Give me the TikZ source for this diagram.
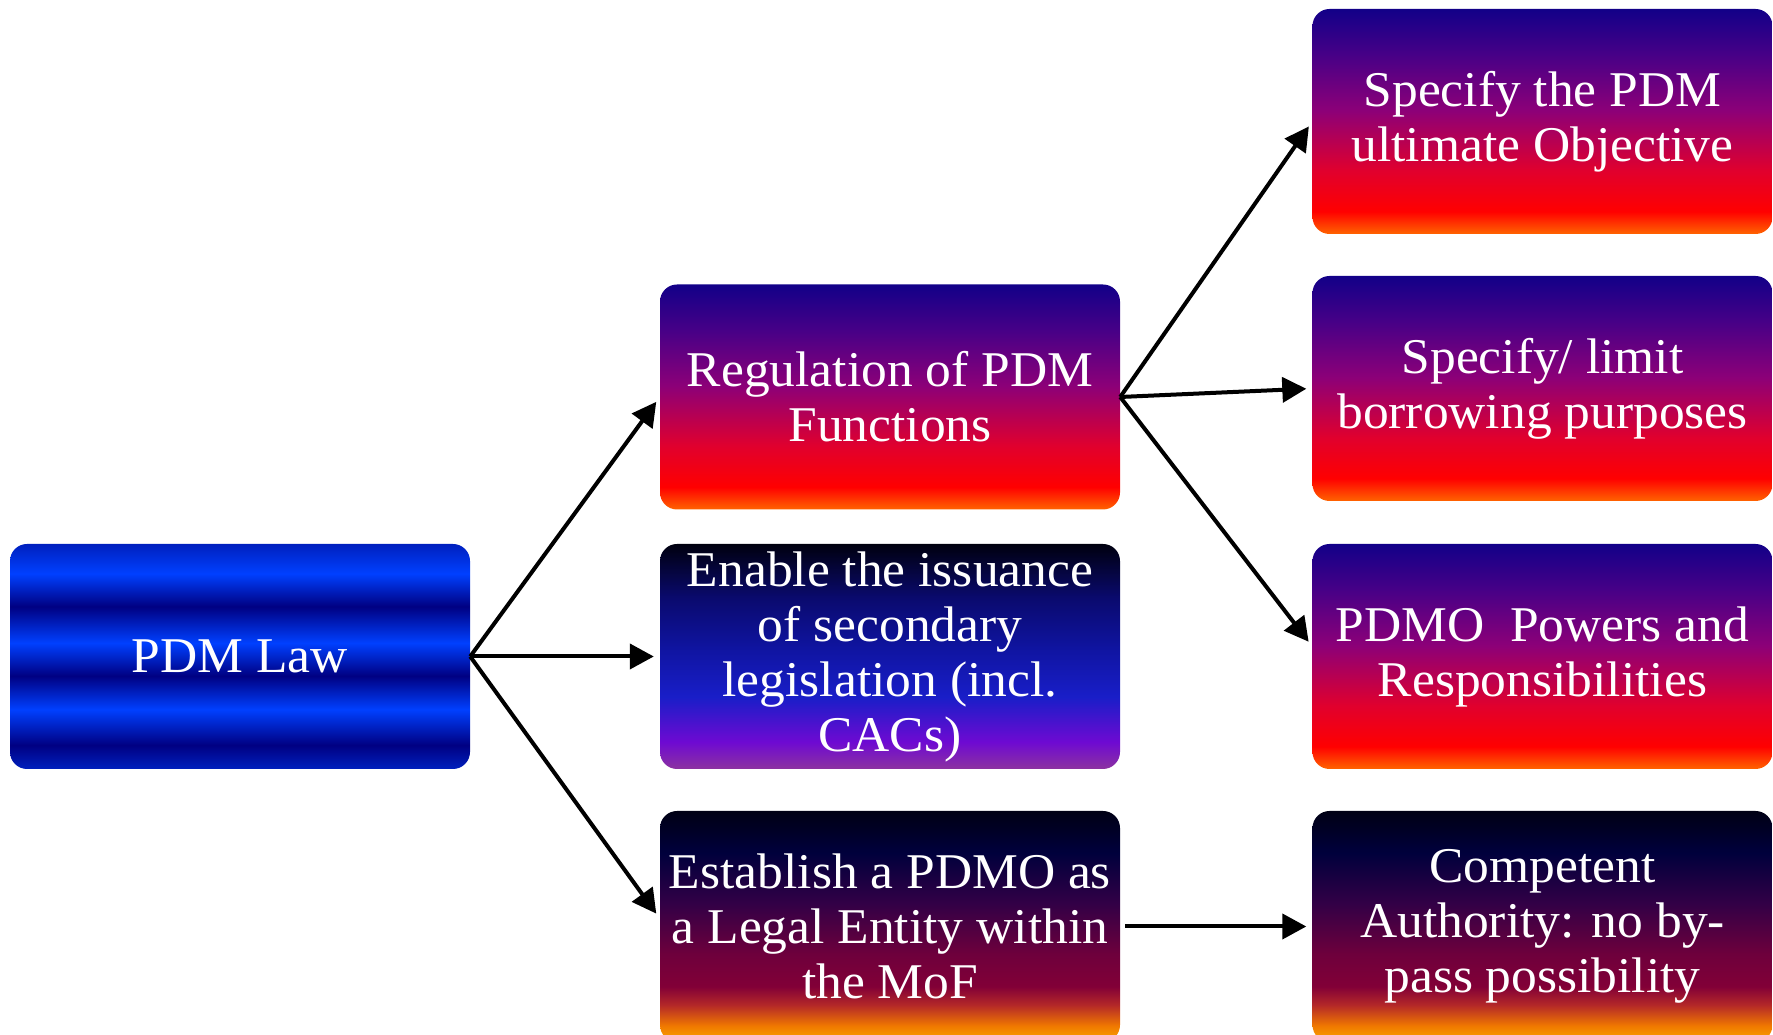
\documentclass[tikz,border=0pt]{standalone}
\usepackage{fontspec}
\setmainfont{Liberation Serif}[FakeStretch=1.03]
\usetikzlibrary{arrows.meta}

% Colours of the shadings
\definecolor{bandmid}{RGB}{0,32,190}
\definecolor{banddark}{RGB}{0,0,130}
\definecolor{bandbright}{RGB}{0,64,255}
\definecolor{fadeorange}{RGB}{255,100,0}
\definecolor{fadered}{RGB}{255,0,0}
\definecolor{fadecrimson}{RGB}{225,0,45}
\definecolor{fadeplum}{RGB}{140,0,120}
\definecolor{fadepurple}{RGB}{70,0,135}
\definecolor{fadenavy}{RGB}{18,0,136}
\definecolor{bluemauve}{RGB}{140,50,160}
\definecolor{blueviolet}{RGB}{110,10,210}
\definecolor{bluemid}{RGB}{25,30,200}
\definecolor{bluedeep}{RGB}{15,20,160}
\definecolor{bluedark}{RGB}{10,10,110}
\definecolor{blueblack}{RGB}{0,0,15}
\definecolor{amberyellow}{RGB}{250,170,0}
\definecolor{amberorange}{RGB}{240,120,0}
\definecolor{amberrust}{RGB}{180,40,40}
\definecolor{ambermaroon}{RGB}{130,0,55}
\definecolor{amberwine}{RGB}{110,0,60}
\definecolor{amberplum}{RGB}{50,0,70}
\definecolor{ambernavy}{RGB}{0,0,60}
\definecolor{amberblack}{RGB}{0,0,20}

% Shadings (25bp = bottom of box, 75bp = top of box)
\pgfdeclareverticalshading{lawbands}{100bp}{color(0bp)=(bandmid); color(25bp)=(bandmid);
  color(30.3bp)=(banddark); color(38.2bp)=(bandbright); color(45.7bp)=(banddark);
  color(53bp)=(bandbright); color(61.1bp)=(banddark); color(68.4bp)=(bandbright);
  color(75bp)=(bandmid); color(100bp)=(bandmid)}
\pgfdeclareverticalshading{redfade}{100bp}{color(0bp)=(fadeorange); color(25bp)=(fadeorange);
  color(30bp)=(fadered); color(39bp)=(fadecrimson); color(52.5bp)=(fadeplum);
  color(65bp)=(fadepurple); color(75bp)=(fadenavy); color(100bp)=(fadenavy)}
\pgfdeclareverticalshading{bluefade}{100bp}{color(0bp)=(bluemauve); color(25bp)=(bluemauve);
  color(31bp)=(blueviolet); color(41bp)=(bluemid); color(52bp)=(bluedeep);
  color(63bp)=(bluedark); color(75bp)=(blueblack); color(100bp)=(blueblack)}
\pgfdeclareverticalshading{amberfade}{100bp}{color(0bp)=(amberyellow); color(25bp)=(amberyellow);
  color(28.5bp)=(amberorange); color(33bp)=(amberrust); color(37bp)=(ambermaroon);
  color(44bp)=(amberwine); color(55bp)=(amberplum); color(66bp)=(ambernavy);
  color(75bp)=(amberblack); color(100bp)=(amberblack)}

\tikzset{
  box/.style={rounded corners=17pt, minimum width=460pt, minimum height=225pt,
    inner sep=0pt, align=center, text=white, font=\fontsize{50}{55}\selectfont},
  lawbox/.style={box, shading=lawbands},
  redbox/.style={box, shading=redfade},
  bluebox/.style={box, shading=bluefade},
  amberbox/.style={box, shading=amberfade, minimum height=231pt},
  link/.style={->, line width=4pt, shorten >=6pt}
}

\begin{document}
\begin{tikzpicture}[x=1pt, y=1pt, >={Triangle[length=24pt, width=25pt]}]
    \useasboundingbox (0,0) rectangle (1773,1035);

    % Root of the tree
    \node[lawbox] (law) at (240,378.5) {PDM Law};

    % Middle column
    \node[redbox] (reg) at (890,638) {Regulation of PDM\\Functions};
    \node[bluebox] (enab) at (890,378.5) {Enable the issuance\\of secondary\\legislation (incl.\\CACs)};
    \node[amberbox] (estab) at (890,108.5) {Establish a PDMO as\\a Legal Entity within\\the MoF};

    % Right column
    \node[redbox] (obj) at (1542.5,913.5) {Specify the PDM\\ultimate Objective};
    \node[redbox] (purp) at (1542.5,646.5) {Specify/ limit\\borrowing purposes};
    \node[redbox] (pdmo) at (1542.5,378.5) {PDMO~ Powers and\\Responsibilities};
    \node[amberbox] (comp) at (1542.5,108.5) {Competent\\Authority: no by-\\pass possibility};

    % Arrows
    \draw[link] (law.east) -- (reg.west);
    \draw[link] (law.east) -- (enab.west);
    \draw[link] (law.east) -- ([yshift=8pt]estab.west);
    \draw[link] (reg.east) -- (obj.west);
    \draw[link] (reg.east) -- (purp.west);
    \draw[link] (reg.east) -- ([yshift=10pt]pdmo.west);
    \draw[link] ([xshift=5pt]estab.east) -- (comp.west);
\end{tikzpicture}
\end{document}
